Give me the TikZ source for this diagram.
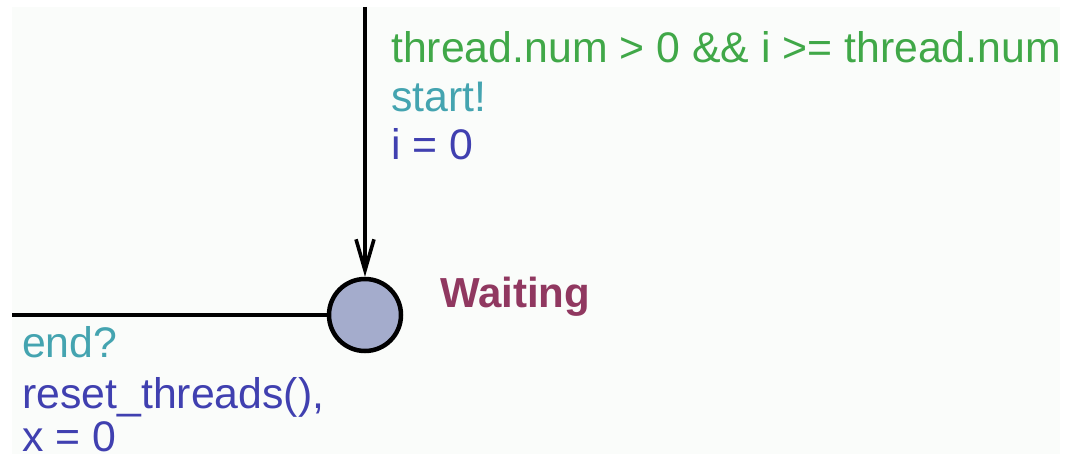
\documentclass[tikz,border=0pt]{standalone}
\usepackage{fontspec}
\setmainfont{Liberation Sans}
\usetikzlibrary{arrows.meta}
\definecolor{bgc}{HTML}{FAFCFA}
\definecolor{guardc}{HTML}{40A848}
\definecolor{syncc}{HTML}{44A4B0}
\definecolor{assignc}{HTML}{4040B0}
\definecolor{namec}{HTML}{903860}
\definecolor{statec}{HTML}{A4ACCC}
\tikzset{
  locstate/.style={circle, draw=black, line width=4.5pt, fill=statec, minimum size=72pt, inner sep=0pt},
  edge/.style={draw=black, line width=3.6pt},
  lbl/.style={anchor=base west, inner sep=0pt, font=\fontsize{42.8}{48}\selectfont},
  guard/.style={lbl, text=guardc},
  sync/.style={lbl, text=syncc},
  assign/.style={lbl, text=assignc},
  locname/.style={anchor=base west, inner sep=0pt, text=namec, font=\fontsize{42}{48}\selectfont\bfseries}
}
\begin{document}
\begin{tikzpicture}[x=1pt, y=-1pt]
\useasboundingbox (0,0) rectangle (1076,454);
\fill[white] (0,0) rectangle (1076,454);
\fill[bgc] (12,7) rectangle (1060,454);
\begin{scope}
\clip (0,0) rectangle (1076,454);
\node[locstate] (w) at (365,315) {};
\node[locname] (wname) at (440,308) {Waiting};
\coordinate (top) at (365,7);
\coordinate (left) at (12,315);
\draw[edge, -{Straight Barb[length=31pt, width=18pt, line width=3.6pt]}] (top) -- (w);
\draw[edge] (left) -- (w);
\node[guard] (g1) at (391,63) {thread.num > 0 \&\& i >= thread.num};
\node[sync] (s1) at (391,112) {start!};
\node[assign] (a1) at (391,160) {i = 0};
\node[sync] (s2) at (22,357) {end?};
\node[assign] (a2) at (22,408) {reset\_threads(),};
\node[assign] (a3) at (22,451) {x = 0};
\end{scope}
\end{tikzpicture}
\end{document}
